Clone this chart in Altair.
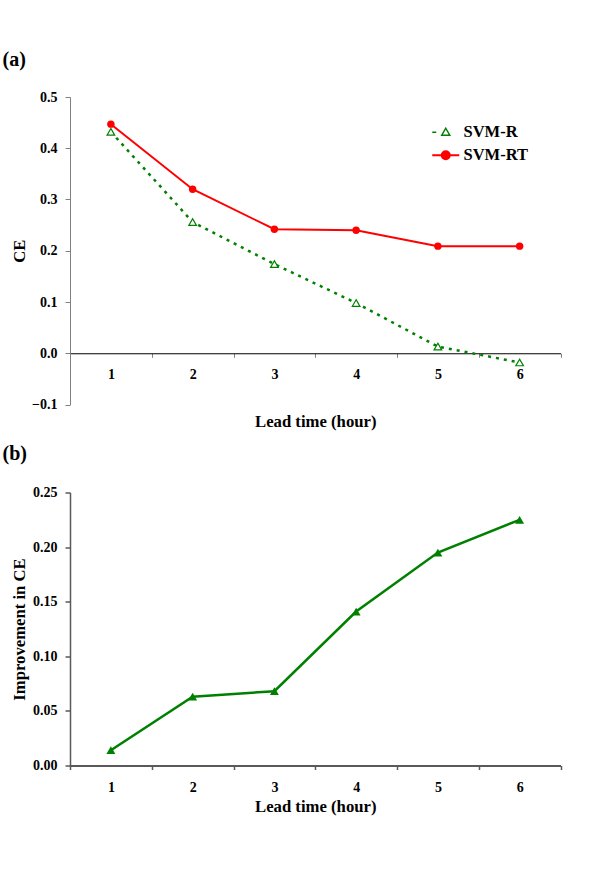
import altair as alt
import pandas as pd

# ---- data ----
lead_time = [1, 2, 3, 4, 5, 6]
svm_r = [0.432, 0.256, 0.174, 0.098, 0.013, -0.018]
svm_rt = [0.447, 0.320, 0.242, 0.240, 0.209, 0.209]
improvement = [0.014, 0.063, 0.068, 0.141, 0.195, 0.225]
series_names = ["SVM-R", "SVM-RT"]
ce_ticks = [-0.1, 0.0, 0.1, 0.2, 0.3, 0.4, 0.5]
imp_ticks = [0.0, 0.05, 0.10, 0.15, 0.20, 0.25]

FONT = "Liberation Serif"
GREEN = "#008000"
RED = "#FF0000"

df_a = pd.DataFrame({
    "lead": lead_time * 2,
    "ce": svm_r + svm_rt,
    "series": [series_names[0]] * len(lead_time) + [series_names[1]] * len(lead_time),
})
df_b = pd.DataFrame({"lead": lead_time, "imp": improvement})

W = 490.5
HA = 307.5
HB = 273

band = alt.Scale(type="band", paddingInner=0, paddingOuter=0)

# ---------- panel (a) ----------
xa = alt.X(
    "lead:O", scale=band,
    axis=alt.Axis(
        title="Lead time (hour)", labelAngle=0, tickBand="extent",
        offset=-HA / 6, domainColor="black", domainWidth=1,
        tickColor="#808080", tickSize=4, labelPadding=10,
        titleY=68, titleBaseline="middle",
    ),
)
ya = alt.Y(
    "ce:Q", scale=alt.Scale(domain=[-0.1, 0.5], nice=False, zero=False),
    axis=alt.Axis(
        title="CE", values=ce_ticks, format=".1f", domainColor="#808080",
        tickColor="#808080", tickSize=5, labelPadding=8,
        titleX=-51, titleBaseline="middle",
    ),
)

base_a = alt.Chart(df_a)
r_data = base_a.transform_filter(alt.datum.series == series_names[0])
rt_data = base_a.transform_filter(alt.datum.series == series_names[1])

r_line = r_data.mark_line(color=GREEN, strokeWidth=2.5, strokeDash=[3, 5]).encode(x=xa, y=ya)
rt_line = rt_data.mark_line(color=RED, strokeWidth=2).encode(x=xa, y=ya)
r_pts = r_data.mark_point(shape="triangle-up", filled=True, fill="white", stroke=GREEN,
                          strokeWidth=1.2, size=58, opacity=1).encode(x=xa, y=ya)
rt_pts = rt_data.mark_point(shape="circle", filled=True, color=RED, size=55,
                            opacity=1).encode(x=xa, y=ya)

# legend-only layer: invisible marks, legend symbols drawn as line + marker paths
PATH_R = "M-1.35,0H-0.95M0,-0.4L0.4,0.3L-0.4,0.3Z"
PATH_RT = "M-1.35,0H1.35M-0.4,0A0.4,0.4,0,1,0,0.4,0A0.4,0.4,0,1,0,-0.4,0Z"
is_r = f"datum.value === '{series_names[0]}'"

leg = base_a.mark_point(filled=True, opacity=0).encode(
    x=xa, y=ya,
    shape=alt.Shape(
        "series:N",
        scale=alt.Scale(domain=series_names, range=[PATH_R, PATH_RT]),
        legend=alt.Legend(
            title=None, orient="none", legendX=367.5, legendY=27, padding=0,
            labelFont=FONT, labelFontSize=16.5, labelFontWeight="bold",
            labelColor="black", symbolSize=400, labelOffset=9.5, rowPadding=6,
            symbolOpacity=1,
            symbolFillColor=alt.ExprRef(f"{is_r} ? 'white' : '{RED}'"),
            symbolStrokeColor=alt.ExprRef(f"{is_r} ? '{GREEN}' : '{RED}'"),
            symbolStrokeWidth=alt.ExprRef(f"{is_r} ? 1.5 : 2"),
        ),
    ),
    fill=alt.Fill("series:N", scale=alt.Scale(domain=series_names, range=["white", RED]), legend=None),
    stroke=alt.Stroke("series:N", scale=alt.Scale(domain=series_names, range=[GREEN, RED]), legend=None),
)

panel_a = alt.layer(r_line, rt_line, r_pts, rt_pts, leg).properties(
    width=W, height=HA,
    title=alt.TitleParams("(a)", anchor="start", frame="group", dx=-67.5,
                          font=FONT, fontSize=20, fontWeight="bold", color="black", offset=20),
)

# ---------- panel (b) ----------
xb = alt.X(
    "lead:O", scale=band,
    axis=alt.Axis(
        title="Lead time (hour)", labelAngle=0, tickBand="extent",
        domainColor="#595959", domainWidth=2, tickColor="#595959", tickWidth=1.5,
        tickSize=4, labelPadding=11, titleY=41, titleBaseline="middle",
    ),
)
yb = alt.Y(
    "imp:Q", scale=alt.Scale(domain=[0, 0.25], nice=False),
    axis=alt.Axis(
        title="Improvement in CE", values=imp_ticks, format=".2f",
        domainColor="#595959", domainWidth=1.5, tickColor="#595959", tickWidth=1.5,
        tickSize=5, labelPadding=8, titleX=-51, titleBaseline="middle",
    ),
)
base_b = alt.Chart(df_b)
b_line = base_b.mark_line(color=GREEN, strokeWidth=2.5).encode(x=xb, y=yb)
b_pts = base_b.mark_point(shape="triangle-up", filled=True, opacity=1, color=GREEN, size=80).encode(x=xb, y=yb)

panel_b = alt.layer(b_line, b_pts).properties(
    width=W, height=HB,
    title=alt.TitleParams("(b)", anchor="start", frame="group", dx=-67.5,
                          font=FONT, fontSize=20, fontWeight="bold", color="black", offset=22),
)

chart = alt.vconcat(panel_a, panel_b, spacing=87.5, bounds="flush").resolve_scale(
    x="independent", y="independent", shape="independent", fill="independent", stroke="independent"
).resolve_legend(shape="independent").properties(
    padding={"left": 2, "top": 50, "right": 5, "bottom": 5},
    background="white",
).configure_view(stroke=None).configure_axis(
    labelFont=FONT, labelFontSize=14, labelFontWeight="bold", labelColor="black",
    titleFont=FONT, titleFontSize=16.7, titleFontWeight="bold", titleColor="black",
    grid=False,
)

chart.save("out.html", embed_options={"renderer": "svg", "actions": False})
